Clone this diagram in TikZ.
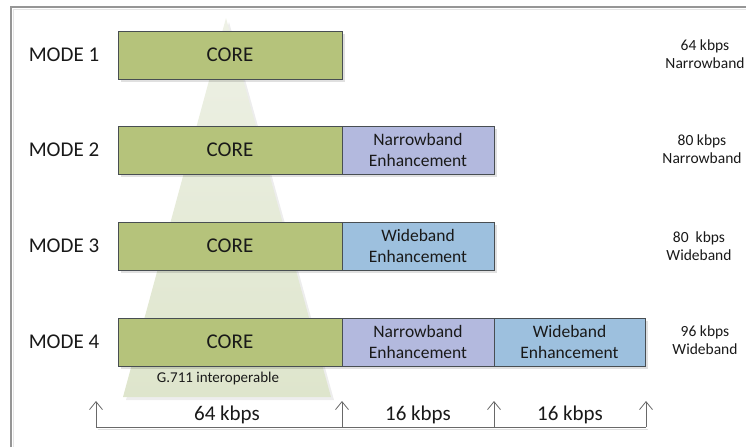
\documentclass[tikz,border=0pt]{standalone}
\usepackage{fontspec}
\setmainfont{Carlito}
\usetikzlibrary{arrows.meta,shadows}
\definecolor{coreg}{RGB}{181,195,123}
\definecolor{nbc}{RGB}{179,185,222}
\definecolor{wbc}{RGB}{157,192,222}
\definecolor{bord}{RGB}{72,78,82}
\definecolor{tribot}{RGB}{222,229,204}
\definecolor{tritop}{RGB}{238,241,230}
\definecolor{framec}{RGB}{150,150,150}
\definecolor{arrc}{RGB}{105,105,105}
\definecolor{txt}{RGB}{25,25,25}
\begin{document}
\begin{tikzpicture}[x=1pt,y=-1pt,
  blk/.style={draw=bord, line width=0.9pt, minimum height=48pt, inner sep=0pt, outer sep=0pt,
    align=center, text=txt, drop shadow={shadow xshift=3pt, shadow yshift=-3pt, fill=black, opacity=0.12}},
  corebox/.style={blk, fill=coreg, minimum width=224pt, font=\fontsize{21}{25}\selectfont},
  nbbox/.style={blk, fill=nbc, minimum width=152pt, font=\fontsize{17.5}{21}\selectfont},
  wbbox/.style={blk, fill=wbc, minimum width=152pt, font=\fontsize{17.5}{21}\selectfont},
  modelab/.style={inner sep=0pt, text=txt, font=\fontsize{21}{25}\selectfont},
  ratelab/.style={inner sep=0pt, text=txt, align=center, font=\fontsize{15.5}{18}\selectfont},
  bitlab/.style={inner sep=0pt, text=txt, font=\fontsize{21}{25}\selectfont},
  arr/.style={arrc, line width=0.8pt, -{Straight Barb[length=8pt,width=13pt]}}
]
\useasboundingbox (0,0) rectangle (746,447);
% frame
\draw[black!10, line width=1.5pt] (13.5,447) -- (13.5,9.5) -- (746,9.5);
\draw[framec, line width=1.3pt] (11,447) -- (11,7) -- (746,7);
% interoperability triangle
\fill[black, opacity=0.07] (229,22) -- (334,400) -- (126,400) -- cycle;
\shade[top color=tritop, bottom color=tribot] (226,18) -- (331,397) -- (123,397) -- cycle;
\node[inner sep=0pt, text=txt, font=\fontsize{15}{18}\selectfont] (g711) at (218,378) {G.711 interoperable};
% mode labels
\node[modelab] (m1) at (64,55) {MODE 1};
\node[modelab] (m2) at (64,150) {MODE 2};
\node[modelab] (m3) at (64,246) {MODE 3};
\node[modelab] (m4) at (64,342) {MODE 4};
% layers
\node[corebox] (c1) at (230,55) {CORE};
\node[corebox] (c2) at (230,150) {CORE};
\node[nbbox] (n2) at (418,150) {Narrowband\\Enhancement};
\node[corebox] (c3) at (230,246) {CORE};
\node[wbbox] (w3) at (418,246) {Wideband\\Enhancement};
\node[corebox] (c4) at (230,342) {CORE};
\node[nbbox] (n4) at (418,342) {Narrowband\\Enhancement};
\node[wbbox, minimum width=151pt] (w4) at (569.5,342) {Wideband\\Enhancement};
% rates
\node[ratelab] (r1) at (705,54) {64 kbps\\Narrowband};
\node[ratelab] (r2) at (702,149) {80 kbps\\Narrowband};
\node[ratelab] (r3) at (699,246) {80\ \ kbps\\Wideband};
\node[ratelab] (r4) at (705,340) {96 kbps\\Wideband};
% bit allocation scale
\coordinate (b0) at (96,427);
\coordinate (b1) at (342,427);
\coordinate (b2) at (494,427);
\coordinate (b3) at (646,427);
\coordinate (t0) at (96,401);
\coordinate (t1) at (342,401);
\coordinate (t2) at (494,401);
\coordinate (t3) at (646,401);
\draw[black!12, line width=1pt] ([shift={(2,2)}]b0) -- ([shift={(2,2)}]b3);
\draw[arrc, line width=0.8pt] (b0) -- (b3);
\draw[arr] (b0) -- (t0);
\draw[arr] (b1) -- (t1);
\draw[arr] (b2) -- (t2);
\draw[arr] (b3) -- (t3);
\node[bitlab] (k1) at (227,415) {64 kbps};
\node[bitlab] (k2) at (418,415) {16 kbps};
\node[bitlab] (k3) at (570,415) {16 kbps};
\end{tikzpicture}
\end{document}
